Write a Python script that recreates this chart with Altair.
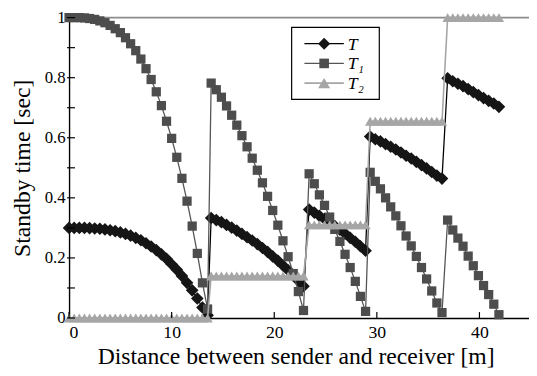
import altair as alt
import pandas as pd

# Distance between sender and receiver [m] (marker positions)
DIST = [0.0, 0.5, 1.0, 1.5, 2.0, 2.5, 3.0, 3.5, 4.0, 4.5, 5.0, 5.5, 6.0, 6.5,
        7.0, 7.5, 8.0, 8.5, 9.0, 9.5, 10.0, 10.5, 11.0, 11.5, 12.0, 12.5, 13.0, 13.5,
        13.85, 14.35, 14.85, 15.35, 15.85, 16.35, 16.85, 17.35, 17.85, 18.35,
        18.85, 19.35, 19.85, 20.35, 20.85, 21.35, 21.85, 22.35, 22.85,
        23.4, 23.9, 24.4, 24.9, 25.4, 25.9, 26.4, 26.9, 27.4, 27.9, 28.4, 28.9,
        29.35, 29.85, 30.35, 30.85, 31.35, 31.85, 32.35, 32.85, 33.35, 33.85,
        34.35, 34.85, 35.35, 35.85, 36.35,
        36.9, 37.4, 37.9, 38.4, 38.9, 39.4, 39.9, 40.4, 40.9, 41.4, 41.9]

T = [0.300, 0.300, 0.300, 0.300, 0.299, 0.298, 0.297, 0.295, 0.292, 0.289, 0.285,
     0.280, 0.274, 0.267, 0.259, 0.249, 0.238, 0.226, 0.212, 0.197, 0.179, 0.161,
     0.140, 0.117, 0.092, 0.065, 0.035, 0.009,
     0.333, 0.326, 0.319, 0.310, 0.301, 0.291, 0.280, 0.269, 0.258, 0.246, 0.233,
     0.220, 0.205, 0.191, 0.175, 0.159, 0.142, 0.124, 0.106,
     0.361, 0.351, 0.340, 0.330, 0.318, 0.306, 0.294, 0.281, 0.267, 0.254, 0.239, 0.224,
     0.604, 0.595, 0.588, 0.579, 0.570, 0.561, 0.551, 0.540, 0.531, 0.520, 0.509,
     0.498, 0.486, 0.474, 0.464,
     0.798, 0.788, 0.780, 0.772, 0.762, 0.752, 0.742, 0.732, 0.723, 0.714, 0.703]

T1 = [1.000, 1.000, 1.000, 0.999, 0.997, 0.994, 0.989, 0.983, 0.974, 0.963, 0.950,
      0.933, 0.913, 0.890, 0.862, 0.830, 0.794, 0.753, 0.707, 0.655, 0.598, 0.535,
      0.465, 0.389, 0.306, 0.215, 0.117, 0.030,
      0.782, 0.760, 0.735, 0.706, 0.675, 0.642, 0.607, 0.570, 0.532, 0.492, 0.450,
      0.405, 0.358, 0.309, 0.257, 0.204, 0.148, 0.088, 0.025,
      0.480, 0.447, 0.410, 0.375, 0.336, 0.295, 0.255, 0.212, 0.168, 0.122, 0.072, 0.022,
      0.485, 0.455, 0.430, 0.400, 0.370, 0.340, 0.307, 0.273, 0.240, 0.205, 0.168,
      0.130, 0.090, 0.050, 0.018,
      0.326, 0.293, 0.266, 0.239, 0.206, 0.174, 0.141, 0.108, 0.078, 0.046, 0.011]

T2 = [0.0, 0.0, 0.0, 0.0, 0.0, 0.0, 0.0, 0.0, 0.0, 0.0, 0.0, 0.0, 0.0, 0.0,
      0.0, 0.0, 0.0, 0.0, 0.0, 0.0, 0.0, 0.0, 0.0, 0.0, 0.0, 0.0, 0.0, 0.0,
      0.14, 0.14, 0.14, 0.14, 0.14, 0.14, 0.14, 0.14, 0.14, 0.14,
      0.14, 0.14, 0.14, 0.14, 0.14, 0.14, 0.14, 0.14, 0.14,
      0.31, 0.31, 0.31, 0.31, 0.31, 0.31, 0.31, 0.31, 0.31, 0.31, 0.31, 0.31,
      0.655, 0.655, 0.655, 0.655, 0.655, 0.655, 0.655, 0.655, 0.655, 0.655,
      0.655, 0.655, 0.655, 0.655, 0.655,
      1.0, 1.0, 1.0, 1.0, 1.0, 1.0, 1.0, 1.0, 1.0, 1.0, 1.0]

SERIES = ["T", "T1", "T2"]
LEGEND_LABELS = ["T", "T\u2081", "T\u2082"]
X_TICKS = [0, 10, 20, 30, 40]
Y_TICKS = [0, 0.1, 0.2, 0.3, 0.4, 0.5, 0.6, 0.7, 0.8, 0.9, 1.0]
Y_LABELS = [0, 0.2, 0.4, 0.6, 0.8, 1.0]
TOP_LINE = [1.0]

FONT = "'Liberation Serif', 'Times New Roman', 'DejaVu Serif', serif"
W, H = 467, 305
PAD_TOP = 7

STYLE = {
    "T": dict(color="#151515", line="#000000", lw=1.3, shape="diamond", size=165, lsize=150),
    "T1": dict(color="#4d4d4d", line="#555555", lw=1.3, shape="square", size=88, lsize=95),
    "T2": dict(color="#a6a6a6", line="#a6a6a6", lw=1.6, shape="triangle-up", size=110, lsize=150),
}

df = pd.DataFrame({"d": DIST, "T": T, "T1": T1, "T2": T2})

xs = alt.Scale(domain=[0, 44.83], nice=False, zero=False)
ys = alt.Scale(domain=[0, 1], nice=False, zero=False)

X_AXIS = alt.Axis(
    values=X_TICKS, format="d", ticks=False, tickSize=0, grid=False,
    domainColor="black", domainWidth=1.4,
    labelFont=FONT, labelFontSize=18, labelColor="black", labelPadding=6,
    title="Distance between sender and receiver [m]",
    titleFont=FONT, titleFontSize=24, titleFontWeight="normal", titleColor="black",
    titleX=230, titleY=46, titleBaseline="alphabetic", titleAlign="center",
)
Y_AXIS = alt.Axis(
    values=Y_LABELS, format="~g", ticks=False, tickSize=0, grid=False,
    domainColor="black", domainWidth=1.4,
    labelFont=FONT, labelFontSize=17, labelColor="black", labelPadding=4,
    title="Standby time [sec]",
    titleFont=FONT, titleFontSize=24, titleFontWeight="normal", titleColor="black",
    titleX=-47, titleY=H / 2, titleAngle=270, titleBaseline="middle", titleAlign="center",
)


def X(field):
    return alt.X(field, type="quantitative", scale=xs, axis=X_AXIS)


def Y(field):
    return alt.Y(field, type="quantitative", scale=ys, axis=Y_AXIS)


layers = []

# gray top line at 1
layers.append(
    alt.Chart(pd.DataFrame({"top": TOP_LINE})).mark_rule(color="#8c8c8c", strokeWidth=1.6)
    .encode(y=Y("top"))
)

for s in SERIES:
    st = STYLE[s]
    layers.append(
        alt.Chart(df).mark_line(color=st["line"], strokeWidth=st["lw"]).encode(x=X("d"), y=Y(s))
    )
    layers.append(
        alt.Chart(df).mark_point(shape=st["shape"], size=st["size"], filled=True,
                                 color=st["color"], opacity=1, strokeWidth=0)
        .encode(x=X("d"), y=Y(s))
    )

# inward ticks
layers.append(
    alt.Chart(pd.DataFrame({"xt": X_TICKS})).mark_rule(color="black", strokeWidth=1.2)
    .encode(x=X("xt"), y=alt.value(H), y2=alt.value(H - 6))
)
layers.append(
    alt.Chart(pd.DataFrame({"yt": Y_TICKS})).mark_rule(color="black", strokeWidth=1.2)
    .encode(y=Y("yt"), x=alt.value(-2), x2=alt.value(6))
)

# legend box
one = pd.DataFrame({"k": [0]})
ly0 = 25 - 8 - PAD_TOP
lx0 = 226
layers.append(
    alt.Chart(one).mark_rect(fill="white", stroke="black", strokeWidth=1.2)
    .encode(x=alt.value(lx0), x2=alt.value(lx0 + 89), y=alt.value(ly0), y2=alt.value(ly0 + 73))
)
for i, s in enumerate(SERIES):
    st = STYLE[s]
    yy = ly0 + 16.5 + 20 * i
    layers.append(
        alt.Chart(one).mark_rule(color=st["line"], strokeWidth=st["lw"])
        .encode(x=alt.value(lx0 + 13), x2=alt.value(lx0 + 53), y=alt.value(yy))
    )
    layers.append(
        alt.Chart(one).mark_point(shape=st["shape"], size=st["lsize"], filled=True,
                                  color=st["color"], opacity=1, strokeWidth=0)
        .encode(x=alt.value(lx0 + 33), y=alt.value(yy))
    )
    layers.append(
        alt.Chart(one).mark_text(align="left", baseline="middle", font=FONT,
                                 fontStyle="italic", fontSize=18, color="black")
        .encode(x=alt.value(lx0 + 57), y=alt.value(yy + 1), text=alt.value(LEGEND_LABELS[i]))
    )

chart = (
    alt.layer(*layers)
    .properties(
        width=W, height=H,
        autosize=alt.AutoSizeParams(type="none"),
        padding={"left": 62, "top": PAD_TOP, "right": 0, "bottom": 48},
        background="white",
    )
    .configure_view(stroke=None)
)

chart.save("out.html", embed_options={"renderer": "svg", "actions": False})
